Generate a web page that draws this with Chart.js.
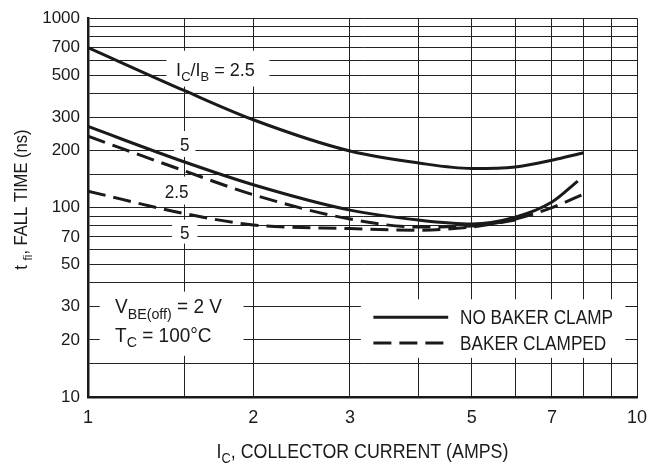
<!DOCTYPE html>
<html lang="en">
<head>
    <meta charset="UTF-8">
    <title>Fall time vs collector current</title>
    <script src="https://cdn.jsdelivr.net/npm/chart.js"></script>
    <style>
        body { margin: 0; padding: 0; background: #fff; }
        #wrap { width: 663px; height: 465px; }
    </style>
</head>
<body>
    <div id="wrap"><canvas id="fallChart" width="663" height="465"></canvas></div>

    <script>
        const icPoints = [1, 1.5, 2, 3, 4, 5, 6, 7, 8];
        const icPoints5 = [1, 1.5, 2, 3, 4, 5, 6, 7, 7.8];
        const icPointsClamped5 = [1, 1.5, 2, 3, 4, 5, 6];

        // fall time (ns)
        const noClampRatio25 = [700, 414, 291, 199, 172, 161, 164, 178, 195];
        const noClampRatio5 = [268, 174, 132, 97, 86, 82, 89, 107, 138];
        const clampedRatio25 = [238, 156, 117, 87, 79, 80, 87, 100, 118];
        const clampedRatio5 = [122, 93, 81, 77.5, 76, 79, 86];

        // grid and tick labels
        const xGrid = [1, 1.5, 2, 3, 4, 5, 6, 7, 8, 9, 10];
        const xTickLabels = [1, 2, 3, 5, 7, 10];
        const yGrid = [10, 15, 20, 30, 40, 50, 60, 70, 80, 90, 100, 150, 200, 300, 400, 500, 600, 700, 800, 900, 1000];
        const yTickLabels = [10, 20, 30, 50, 70, 100, 200, 300, 500, 700, 1000];

        const INK = '#1a1a1a';
        const FAMILY = "'Liberation Sans', Arial, sans-serif";

        function toPoints(xs, ys) {
            return ys.map((y, i) => ({ x: xs[i], y: y }));
        }

        // text with subscripts, squeezed a bit to look like the condensed datasheet face
        function richWidth(ctx, parts, size, sub) {
            let w = 0;
            parts.forEach(p => {
                ctx.font = (p.sub ? size * sub : size) + 'px ' + FAMILY;
                w += ctx.measureText(p.t).width;
            });
            return w;
        }

        function drawRich(ctx, parts, x, y, o) {
            const size = o.size, sx = o.sx || 0.9, sub = o.sub || 0.72;
            const w = richWidth(ctx, parts, size, sub) * sx;
            let left = x;
            if (o.align === 'center') left = x - w / 2;
            if (o.align === 'right') left = x - w;
            ctx.save();
            ctx.translate(left, y);
            ctx.scale(sx, 1);
            ctx.fillStyle = INK;
            ctx.textBaseline = 'alphabetic';
            let pos = 0;
            parts.forEach(p => {
                ctx.font = (p.sub ? size * sub : size) + 'px ' + FAMILY;
                ctx.fillText(p.t, pos, p.sub ? size * 0.27 : 0);
                pos += ctx.measureText(p.t).width;
            });
            ctx.restore();
            return { left: left, width: w };
        }

        const annotationPlugin = {
            id: 'annotations',
            beforeDatasetsDraw(chart) {
                const ctx = chart.ctx;
                const xs = chart.scales.x, ys = chart.scales.y;
                const px = v => xs.getPixelForValue(v);
                const py = v => ys.getPixelForValue(v);

                ctx.save();
                ctx.fillStyle = '#fff';
                // boxes that break the grid behind the notes
                const boxes = [
                    [1.39, 2.14, 673, 436],
                    [1.05, 1.92, 36, 16.5],
                    [3.14, 9.52, 32.8, 16.1]
                ];
                boxes.forEach(b => {
                    ctx.fillRect(px(b[0]), py(b[2]), px(b[1]) - px(b[0]), py(b[3]) - py(b[2]));
                });

                // small curve labels, box = text + padding
                const small = [
                    { t: '5', x: 1.5, y: 199, padX: 6, padY: 6 },
                    { t: '2.5', x: 1.45, y: 113, padX: 9, padY: 7 },
                    { t: '5', x: 1.5, y: 68.6, padX: 8, padY: 5 }
                ];
                const size = 19;
                small.forEach(s => {
                    const w = richWidth(ctx, [{ t: s.t }], size, 0.72) * 0.9;
                    const cx = px(s.x), base = py(s.y);
                    ctx.fillStyle = '#fff';
                    ctx.fillRect(cx - w / 2 - s.padX, base - 14 - s.padY, w + 2 * s.padX, 14 + 2 * s.padY);
                    drawRich(ctx, [{ t: s.t }], cx, base, { size: size, align: 'center' });
                });

                drawRich(ctx, [{ t: 'I' }, { t: 'C', sub: true }, { t: '/I' }, { t: 'B', sub: true }, { t: ' = 2.5' }],
                    px(1.707), py(498), { size: 19, align: 'center', sx: 0.95 });

                drawRich(ctx, [{ t: 'V' }, { t: 'BE(off)', sub: true }, { t: ' = 2 V' }],
                    px(1.12), py(27.7), { size: 20, sub: 0.75, sx: 0.95 });
                drawRich(ctx, [{ t: 'T' }, { t: 'C', sub: true }, { t: ' = 100°C' }],
                    px(1.12), py(19.5), { size: 20, sub: 0.75, sx: 0.95 });

                // legend
                ctx.strokeStyle = INK;
                ctx.lineWidth = 3;
                ctx.lineCap = 'butt';
                ctx.beginPath();
                ctx.moveTo(px(3.31), py(26.4));
                ctx.lineTo(px(4.53), py(26.4));
                ctx.stroke();
                ctx.setLineDash([18, 8]);
                ctx.beginPath();
                ctx.moveTo(px(3.31), py(19.3));
                ctx.lineTo(px(4.53), py(19.3));
                ctx.stroke();
                ctx.setLineDash([]);
                drawRich(ctx, [{ t: 'NO BAKER CLAMP' }], px(4.76), py(26.4) + 7, { size: 20, sx: 0.86 });
                drawRich(ctx, [{ t: 'BAKER CLAMPED' }], px(4.76), py(19.3) + 7, { size: 20, sx: 0.86 });
                ctx.restore();
            },
            afterDraw(chart) {
                const ctx = chart.ctx;
                const area = chart.chartArea;
                // axis titles
                drawRich(ctx, [{ t: 'I' }, { t: 'C', sub: true }, { t: ', COLLECTOR CURRENT (AMPS)' }],
                    (area.left + area.right) / 2, 458, { size: 20, align: 'center', sx: 0.89 });
                ctx.save();
                ctx.translate(27, (area.top + area.bottom) / 2 - 8);
                ctx.rotate(-Math.PI / 2);
                drawRich(ctx, [{ t: 't ' }, { t: 'fi', sub: true }, { t: ', FALL TIME (ns)' }],
                    0, 0, { size: 18, align: 'center', sx: 0.92 });
                ctx.restore();
            }
        };

        const solid = { borderColor: INK, borderWidth: 3, pointRadius: 0, cubicInterpolationMode: 'monotone', fill: false };
        const dashed = Object.assign({}, solid, { borderDash: [18, 8] });

        new Chart(document.getElementById('fallChart').getContext('2d'), {
            type: 'line',
            data: {
                datasets: [
                    Object.assign({ label: 'NO BAKER CLAMP, IC/IB = 2.5', data: toPoints(icPoints, noClampRatio25) }, solid),
                    Object.assign({ label: 'NO BAKER CLAMP, IC/IB = 5', data: toPoints(icPoints5, noClampRatio5) }, solid),
                    Object.assign({ label: 'BAKER CLAMPED, IC/IB = 2.5', data: toPoints(icPoints, clampedRatio25) }, dashed),
                    Object.assign({ label: 'BAKER CLAMPED, IC/IB = 5', data: toPoints(icPointsClamped5, clampedRatio5) }, dashed)
                ]
            },
            options: {
                responsive: false,
                animation: false,
                layout: { padding: { top: 14, right: 26, left: 0, bottom: 0 } },
                plugins: {
                    legend: { display: false },
                    tooltip: { enabled: false }
                },
                scales: {
                    x: {
                        type: 'logarithmic',
                        min: 1,
                        max: 10,
                        afterBuildTicks: s => { s.ticks = xGrid.map(v => ({ value: v })); },
                        afterFit: s => { s.height = 68; },
                        ticks: {
                            autoSkip: false,
                            maxRotation: 0,
                            padding: 10,
                            color: INK,
                            font: { family: FAMILY, size: 18 },
                            callback: v => xTickLabels.includes(v) ? String(v) : ''
                        },
                        grid: { color: '#222', lineWidth: 1, drawTicks: false },
                        border: { color: INK, width: 2.5 }
                    },
                    y: {
                        type: 'logarithmic',
                        min: 10,
                        max: 1000,
                        afterBuildTicks: s => { s.ticks = yGrid.map(v => ({ value: v })); },
                        afterFit: s => { s.width = 88; },
                        ticks: {
                            autoSkip: false,
                            padding: 8,
                            color: INK,
                            font: { family: FAMILY, size: 17 },
                            callback: v => yTickLabels.includes(v) ? String(v) : ''
                        },
                        grid: { color: '#222', lineWidth: 1, drawTicks: false },
                        border: { color: INK, width: 2.5 }
                    }
                }
            },
            plugins: [annotationPlugin]
        });
    </script>
</body>
</html>
